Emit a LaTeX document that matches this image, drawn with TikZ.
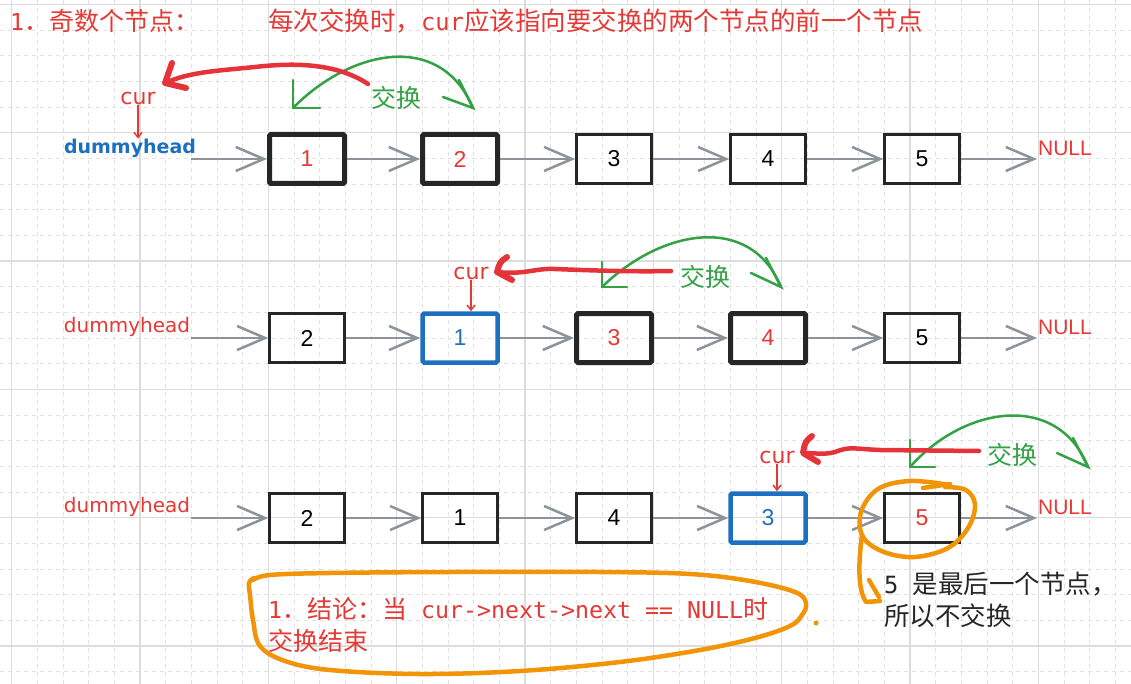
\documentclass[tikz,border=0pt]{standalone}
\usepackage{fontspec}
\setmainfont{DejaVu Sans}
\newfontfamily\cjk{Noto Sans CJK SC}
\newfontfamily\mono[Scale=0.93]{DejaVu Sans Mono}
\newfontfamily\lib{Liberation Sans}
\usetikzlibrary{arrows.meta}
\definecolor{tred}{HTML}{E53935}
\definecolor{pred}{HTML}{E5333A}
\definecolor{pgreen}{HTML}{33A145}
\definecolor{mblue}{HTML}{1D6FC0}
\definecolor{porange}{HTML}{F29408}
\definecolor{lgray}{HTML}{8C939A}
\definecolor{bblack}{HTML}{262626}
\definecolor{gmajor}{HTML}{DCDCDC}
\definecolor{gminor}{HTML}{E2E2E2}
\begin{document}
\begin{tikzpicture}[x=1pt,y=-1pt,
  box/.style={draw=bblack,line width=2.5pt,minimum width=75pt,minimum height=49pt,inner sep=0pt,font=\lib\fontsize{23}{23}\selectfont,text=black},
  thickbox/.style={box,line width=5pt,rounded corners=1.5pt,text=tred},
  bluebox/.style={box,draw=mblue,line width=4.5pt,rounded corners=1.5pt,text=mblue},
  link/.style={draw=lgray,line width=2.5pt,-{Straight Barb[length=28pt,width=24pt]}},
  gridminor/.style={draw=gminor,line width=1pt,dash pattern=on 4pt off 4pt},
  gridmajor/.style={draw=gmajor,line width=1.5pt},
  redpen/.style={draw=pred,line width=4.5pt,line cap=round,line join=round},
  redhead/.style={redpen,line width=6pt},
  greenpen/.style={draw=pgreen,line width=2.5pt,line cap=round,line join=miter},
  orangepen/.style={draw=porange,line width=4.5pt,line cap=round,line join=round},
  curarrow/.style={draw=tred,line width=1.5pt,-{Straight Barb[length=5pt,width=8pt]}},
  curlabel/.style={font=\fontsize{22}{22}\selectfont,text=tred,inner sep=0pt},
  swaplabel/.style={font=\cjk\fontsize{25}{25}\selectfont,text=pgreen,inner sep=0pt},
  dummy/.style={font=\fontsize{20}{20}\selectfont,text=tred,inner sep=0pt},
  nulllabel/.style={font=\lib\fontsize{21}{21}\selectfont,text=tred,inner sep=0pt}
]
\useasboundingbox (0,0) rectangle (1131,684);
\fill[white] (0,0) rectangle (1131,684);
% grid
\foreach \k in {0,...,44}{\draw[gridminor] ({11.7+25.67*\k},0) -- ({11.7+25.67*\k},684);}
\foreach \k in {0,...,26}{\draw[gridminor] (0,{4.4+25.67*\k}) -- (1131,{4.4+25.67*\k});}
\foreach \k in {0,...,8}{\draw[gridmajor] ({11.7+128.33*\k},0) -- ({11.7+128.33*\k},684);}
\foreach \k in {0,...,5}{\draw[gridmajor] (0,{4.4+128.33*\k}) -- (1131,{4.4+128.33*\k});}

% titles
\node[anchor=west,text=tred,font=\cjk\fontsize{25}{25}\selectfont,inner sep=0pt] (t1) at (10,21) {{\mono 1}．奇数个节点：};
\node[anchor=west,text=tred,font=\cjk\fontsize{25.5}{25.5}\selectfont,inner sep=0pt] (t2) at (268,21) {每次交换时，{\mono cur}应该指向要交换的两个节点的前一个节点};

% ---------- row 1 ----------
\node[font=\bfseries\fontsize{19}{19}\selectfont,text=mblue,inner sep=0pt] (d1) at (130,148) {dummyhead};
\node[thickbox] (a1) at (307,159) {1};
\node[thickbox] (a2) at (460,159) {2};
\node[box] (a3) at (614,159) {3};
\node[box] (a4) at (768,159) {4};
\node[box] (a5) at (922,159) {5};
\node[nulllabel] (n1) at (1065,148) {NULL};
\coordinate (s1) at (191,159);
\coordinate (e1) at (1037,159);
\draw[link] (s1) -- (a1);
\draw[link] (a1) -- (a2);
\draw[link] (a2) -- (a3);
\draw[link] (a3) -- (a4);
\draw[link] (a4) -- (a5);
\draw[link] (a5) -- (e1);

\node[curlabel] (cur1) at (138,98) {cur};
\draw[curarrow] (cur1.south) -- (cur1.south |- d1.north);
\node[swaplabel] (x1) at (396,98) {交换};
\coordinate (g1l) at (293,108);
\coordinate (g1r) at (473,108);
\draw[greenpen] (g1l) .. controls (350,50) and (440,30) .. (g1r);
\draw[greenpen] (293,80) -- (g1l) -- (320,108);
\draw[greenpen] (459,80) -- (g1r) -- (443,97);
\coordinate (r1s) at (368,84);
\coordinate (r1t) at (165,83);
\draw[redpen] (r1s) .. controls (335,62) and (290,63) .. (255,67) .. controls (215,71) and (190,72) .. (r1t);
\draw[redhead] (172,63) -- (r1t) -- (186,88);

% ---------- row 2 ----------
\node[dummy] (d2) at (127,327) {dummyhead};
\node[box] (b1) at (307,338) {2};
\node[bluebox] (b2) at (460,338) {1};
\node[thickbox] (b3) at (614,338) {3};
\node[thickbox] (b4) at (768,338) {4};
\node[box] (b5) at (922,338) {5};
\node[nulllabel] (n2) at (1065,327) {NULL};
\coordinate (s2) at (191,338);
\coordinate (e2) at (1037,338);
\draw[link] (s2) -- (b1);
\draw[link] (b1) -- (b2);
\draw[link] (b2) -- (b3);
\draw[link] (b3) -- (b4);
\draw[link] (b4) -- (b5);
\draw[link] (b5) -- (e2);

\node[curlabel] (cur2) at (471,273) {cur};
\draw[curarrow] (cur2.south) -- (cur2.south |- b2.north);
\node[swaplabel] (x2) at (705,277) {交换};
\coordinate (g2l) at (602,287);
\coordinate (g2r) at (781,287);
\draw[greenpen] (g2l) .. controls (660,230) and (750,212) .. (g2r);
\draw[greenpen] (602,262) -- (g2l) -- (627,287);
\draw[greenpen] (766,258) -- (g2r) -- (751,273);
\coordinate (r2s) at (671,271);
\coordinate (r2t) at (497,272);
\draw[redpen] (r2s) .. controls (630,272) and (580,270) .. (555,269) .. controls (535,268) and (525,275) .. (r2t);
\draw[redhead] (507,257) .. controls (500,262) .. (r2t) -- (512,280);

% ---------- row 3 ----------
\node[dummy] (d3) at (127,507) {dummyhead};
\node[box] (c1) at (307,518) {2};
\node[box] (c2) at (460,518) {1};
\node[box] (c3) at (614,518) {4};
\node[bluebox] (c4) at (768,518) {3};
\node[box,text=tred] (c5) at (922,518) {5};
\node[nulllabel] (n3) at (1065,507) {NULL};
\coordinate (s3) at (191,518);
\coordinate (e3) at (1037,518);
\draw[link] (s3) -- (c1);
\draw[link] (c1) -- (c2);
\draw[link] (c2) -- (c3);
\draw[link] (c3) -- (c4);
\draw[link] (c4) -- (c5);
\draw[link] (c5) -- (e3);

\node[curlabel] (cur3) at (777,457) {cur};
\draw[curarrow] (cur3.south) -- (cur3.south |- c4.north);
\node[swaplabel] (x3) at (1012,455) {交换};
\coordinate (g3l) at (910,467);
\coordinate (g3r) at (1088,467);
\draw[greenpen] (g3l) .. controls (965,405) and (1058,392) .. (g3r);
\draw[greenpen] (910,440) -- (g3l) -- (935,467);
\draw[greenpen] (1073,438) -- (g3r) -- (1057,453);
\coordinate (r3s) at (979,451);
\coordinate (r3t) at (803,453);
\draw[redpen] (r3s) -- (880,450) .. controls (855,449) and (850,446) .. (835,452) .. controls (825,455) and (815,453) .. (r3t);
\draw[redhead] (812,436) .. controls (805,442) .. (r3t) -- (818,462);

% orange circle around node 5
\draw[orangepen] plot[smooth,tension=0.6] coordinates {(950,485) (910,481) (878,489) (861,512) (863,537) (884,552) (915,557) (948,548) (968,528) (975,505) (966,490) (945,487)};
\draw[orangepen] (923,488) -- (950,484);
\draw[orangepen] (862,535) .. controls (858,565) and (858,590) .. (866,602) -- (880,601);
\draw[orangepen] (869,580) -- (879,597);
\node[anchor=north west,align=left,text=bblack,font=\cjk\fontsize{25.5}{32}\selectfont,inner sep=0pt] (note) at (884,572) {{\mono 5\ }是最后一个节点，\\所以不交换};

% conclusion
\draw[orangepen] plot[smooth,tension=0.6] coordinates {(253,580) (270,575) (330,573) (450,572) (600,572) (690,574) (750,581) (795,592) (806,603) (802,615) (790,626) (755,638) (700,650) (620,662) (520,671) (420,674) (330,670) (285,661) (260,646) (253,620) (250,595) (249,583) (254,578)};
\fill[porange] (816,623) circle (2.5);
\node[anchor=north west,align=left,text=tred,font=\cjk\fontsize{25}{32}\selectfont,inner sep=0pt] (concl) at (268,597) {{\mono 1}．结论：当{\mono\ cur->next->next == NULL}时\\交换结束};
\end{tikzpicture}
\end{document}
